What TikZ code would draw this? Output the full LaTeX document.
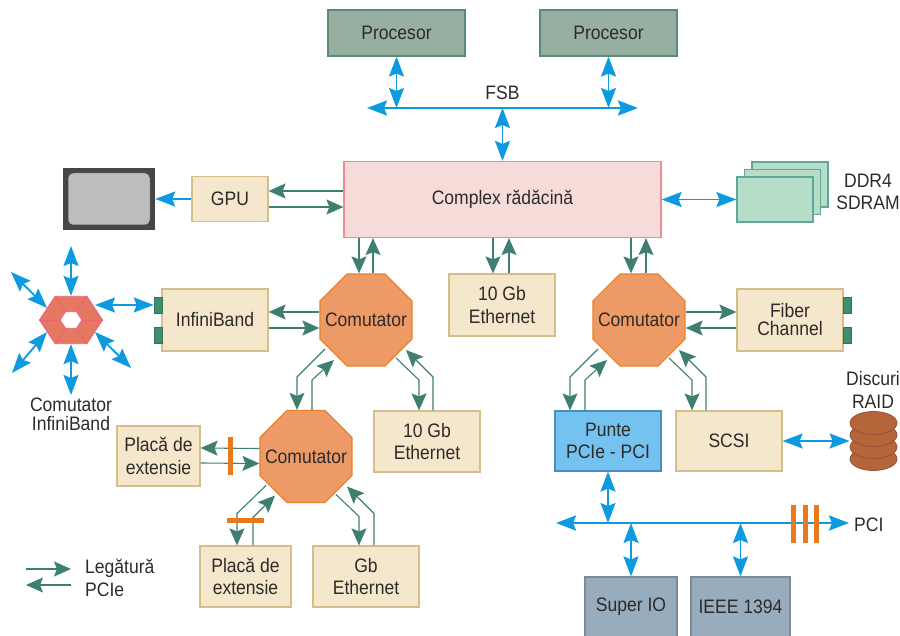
\documentclass[tikz,border=0pt]{standalone}
\usepackage{fontspec}
\setmainfont[FakeStretch=0.9]{Liberation Sans}
\usetikzlibrary{arrows.meta,shapes.geometric}
\definecolor{linkgreen}{HTML}{3F7F72}
\definecolor{busblue}{HTML}{0E9AE0}
\definecolor{barorange}{HTML}{E8791E}
\definecolor{inktext}{HTML}{2E2A2A}
\definecolor{tanfill}{HTML}{F5E7CC}
\definecolor{tanline}{HTML}{D6BE8C}
\definecolor{cpufill}{HTML}{97AFA0}
\definecolor{cpuline}{HTML}{5A8A7A}
\definecolor{iofill}{HTML}{97ADBD}
\definecolor{ioline}{HTML}{7D8B98}
\definecolor{ddrfill}{HTML}{B5DDC8}
\definecolor{ddrline}{HTML}{5FA898}
\definecolor{comfill}{HTML}{EE9A66}
\definecolor{comline}{HTML}{E8842C}
\definecolor{tabfill}{HTML}{3F8F6C}
\definecolor{discfill}{HTML}{B5653A}
\definecolor{discline}{HTML}{96503A}
\definecolor{hexfill}{HTML}{E57860}
\definecolor{hexline}{HTML}{F0607A}
\definecolor{rootfill}{HTML}{F5DCD8}
\definecolor{rootline}{HTML}{EC8E90}
\definecolor{monframe}{HTML}{4A4545}
\definecolor{monscreen}{HTML}{BDBDBD}
\definecolor{puntefill}{HTML}{74C2F0}
\definecolor{punteline}{HTML}{4A8CC4}
\tikzset{
    lbl/.style={inner sep=0pt,align=center,text=inktext,font=\fontsize{19.5}{22.5}\selectfont},
    box/.style={lbl,rectangle,draw,line width=1.2pt,minimum width=#1},
    tanbox/.style={box=#1,fill=tanfill,draw=tanline},
    cpubox/.style={box=137pt,minimum height=46pt,fill=cpufill,draw=cpuline},
    iobox/.style={box=#1,minimum height=60pt,fill=iofill,draw=ioline},
    ddrbox/.style={box=76pt,minimum height=45pt,fill=ddrfill,draw=ddrline},
    comut/.style={regular polygon,regular polygon sides=8,inner sep=0pt,minimum size=99.6pt,fill=comfill,draw=comline,line width=1.2pt},
    tabbox/.style={rectangle,inner sep=0pt,minimum width=8pt,minimum height=16pt,fill=tabfill,draw=tabfill!80!black,line width=.5pt},
    disc/.style={ellipse,inner sep=0pt,minimum width=47pt,minimum height=23pt,fill=discfill,draw=discline,line width=.8pt},
    hexa/.style={regular polygon,regular polygon sides=6,inner sep=0pt,yscale=.87,transform shape,draw=hexline,line width=.9pt},
    barv/.style={rectangle,inner sep=0pt,minimum width=5pt,minimum height=38pt,fill=barorange},
    barh/.style={rectangle,inner sep=0pt,minimum width=37pt,minimum height=5pt,fill=barorange},
    pcie/.style={draw=linkgreen,line width=1.1pt,-{Stealth[length=17pt,width=15pt,inset=3pt]}},
    buslink/.style={draw=busblue,line width=1.8pt,{Stealth[length=20pt,width=15pt,inset=3pt]}-{Stealth[length=20pt,width=15pt,inset=3pt]}},
    busline/.style={buslink,line width=2.8pt},
    busone/.style={draw=busblue,line width=1.8pt,-{Stealth[length=20pt,width=15pt,inset=3pt]}}
}
\begin{document}
\begin{tikzpicture}[x=1pt,y=-1pt]
    \useasboundingbox (0,0) rectangle (900,636);
    \node [cpubox] (proc1) at (396.5,33) {Procesor};
    \node [cpubox] (proc2) at (608.5,33) {Procesor};
    \coordinate (fsbl) at (367,108);
    \coordinate (fsbr) at (638,108);
    \node [lbl] (fsb) at (502.5,93) {FSB};
    \node [box=317pt,minimum height=76pt,fill=rootfill,draw=rootline] (root) at (502.5,199.5) {Complex rădăcină};
    \node [tanbox=76pt,minimum height=45pt] (gpu) at (230,199) {GPU};
    \node [rectangle,inner sep=0pt,minimum width=92pt,minimum height=62pt,fill=monframe] (monitor) at (109,199) {};
    \node [rectangle,rounded corners=5pt,inner sep=0pt,minimum width=82pt,minimum height=52pt,fill=monscreen,draw=black!70,line width=.5pt] (screen) at (109,199) {};
    \node [ddrbox] (ddr3) at (790,184.5) {};
    \node [ddrbox] (ddr2) at (782.5,192) {};
    \node [ddrbox] (ddr1) at (775,199.5) {};
    \node [lbl] (ddrtext) at (868,192) {DDR4\\SDRAM};

    \node [tanbox=106pt,minimum height=62pt] (infini) at (215,320) {InfiniBand};
    \node [tabbox] (tabi1) at (158,305) {};
    \node [tabbox] (tabi2) at (158,335) {};
    \node [hexa,minimum size=63pt,fill=hexfill] (hub) at (71,320) {};
    \node [hexa,minimum size=22pt,fill=white] (hubin) at (71,320) {};
    \foreach \i in {1,...,6}
        \draw [hexline,line width=.9pt] (hub.corner \i) -- (hubin.corner \i);
    \node [lbl,font=\fontsize{19.5}{19}\selectfont] (hubtext) at (71,414) {Comutator\\InfiniBand};
    \coordinate (hubn) at (71,246);
    \coordinate (hubs) at (71,395);
    \coordinate (hubnw) at (11,272);
    \coordinate (hubsw) at (12,373);
    \coordinate (hubse) at (131,368);

    \node [comut,label={[lbl]center:Comutator}] (com1) at (366,320) {};
    \node [comut,label={[lbl]center:Comutator}] (com2) at (639,320) {};
    \node [comut,label={[lbl]center:Comutator}] (com3) at (306,456.5) {};
    \node [tanbox=106pt,minimum height=62pt] (eth1) at (502,305) {10 Gb\\Ethernet};
    \node [tanbox=106pt,minimum height=61pt] (eth2) at (427,441.5) {10 Gb\\Ethernet};
    \node [tanbox=106pt,minimum height=62pt,font=\fontsize{19.5}{18}\selectfont] (fiber) at (790,320) {Fiber\\Channel};
    \node [tabbox] (tabf1) at (847,305) {};
    \node [tabbox] (tabf2) at (847,335) {};
    \node [box=106pt,minimum height=60pt,fill=puntefill,draw=punteline] (punte) at (608,441) {Punte\\PCIe - PCI};
    \node [tanbox=106pt,minimum height=60pt] (scsi) at (729,441) {SCSI};
    \node [tanbox=83pt,minimum height=60pt] (placa1) at (158.5,456) {Placă de\\extensie};
    \node [tanbox=91pt,minimum height=61pt] (placa2) at (245.5,576.5) {Placă de\\extensie};
    \node [tanbox=106pt,minimum height=61pt] (gbe) at (366,576.5) {Gb\\Ethernet};
    \node [disc] (raid4) at (873.5,459) {};
    \node [disc] (raid3) at (873.5,447) {};
    \node [disc] (raid2) at (873.5,435) {};
    \node [disc] (raid1) at (873.5,423) {};
    \node [lbl] (raidtext) at (873,390) {Discuri\\RAID};

    \coordinate (pcil) at (556,523);
    \coordinate (pcir) at (849,523);
    \node [lbl,anchor=west] (pcitext) at (854,525) {PCI};
    \node [iobox=92pt] (superio) at (631,607) {Super IO};
    \node [iobox=99pt] (ieee) at (740.5,607) {IEEE 1394};

    \coordinate (lega1) at (26,569);
    \coordinate (lega2) at (71,569);
    \coordinate (legb1) at (71,585);
    \coordinate (legb2) at (26,585);
    \node [lbl,align=left,anchor=west] (legtext) at (85,578) {Legătură\\PCIe};

    \draw [busline] (fsbl) -- (fsbr);
    \draw [buslink] (proc1.south) -- (proc1.south |- fsbl);
    \draw [buslink] (proc2.south) -- (proc2.south |- fsbl);
    \draw [buslink] (root.north) -- (root.north |- fsbl);
    \draw [busone] (gpu.west) -- (monitor.east);
    \draw [buslink] (root.east |- ddr1.west) -- (ddr1.west);
    \draw [buslink] (hub.side 6 |- tabi1.west) -- (tabi1.west);
    \draw [buslink] (hub.side 1) -- (hubn);
    \draw [buslink] (hub.side 4) -- (hubs);
    \draw [buslink] (hub.side 2) -- (hubnw);
    \draw [buslink] (hub.side 3) -- (hubsw);
    \draw [buslink] (hub.side 5) -- (hubse);
    \draw [buslink] (scsi.east) -- (scsi.east -| raid2.west);
    \draw [busline] (pcil) -- (pcir);
    \draw [buslink] (punte.south) -- (punte.south |- pcil);
    \draw [buslink] (superio.north) -- (superio.north |- pcil);
    \draw [buslink] (ieee.north) -- (ieee.north |- pcil);

    \draw [pcie] ([yshift=8]gpu.east -| root.west) -- ([yshift=8]gpu.east);
    \draw [pcie] ([yshift=-8]gpu.east) -- ([yshift=-8]gpu.east -| root.west);
    \draw [pcie] ([xshift=-7]com1.north |- root.south) -- ([xshift=-7]com1.north);
    \draw [pcie] ([xshift=7]com1.north) -- ([xshift=7]com1.north |- root.south);
    \draw [pcie] ([xshift=-9]eth1.north |- root.south) -- ([xshift=-9]eth1.north);
    \draw [pcie] ([xshift=7]eth1.north) -- ([xshift=7]eth1.north |- root.south);
    \draw [pcie] ([xshift=-8]com2.north |- root.south) -- ([xshift=-8]com2.north);
    \draw [pcie] ([xshift=7]com2.north) -- ([xshift=7]com2.north |- root.south);
    \draw [pcie] ([yshift=8]com1.west) -- ([yshift=8]infini.east);
    \draw [pcie] ([yshift=-8]infini.east) -- ([yshift=-8]com1.west);
    \draw [pcie] ([yshift=8]com2.east) -- ([yshift=8]fiber.west);
    \draw [pcie] ([yshift=-8]fiber.west) -- ([yshift=-8]com2.east);
    \draw [pcie] ([yshift=8]com3.west) -- ([yshift=8]placa1.east);
    \draw [pcie] ([yshift=-7]placa1.east) -- ([yshift=-7]com3.west);

    \draw [pcie] ([shift={(-41,29)}]com1.center) -- ([shift={(-69,57)}]com1.center) -- ([xshift=-9]com3.north);
    \draw [pcie] ([xshift=6]com3.north) -- ([shift={(-54,60)}]com1.center) -- ([shift={(-32,40)}]com1.center);
    \draw [pcie] ([shift={(30,38)}]com1.center) -- ([shift={(53,60)}]com1.center) -- ([xshift=-8]eth2.north);
    \draw [pcie] ([xshift=6]eth2.north) -- ([shift={(67,57)}]com1.center) -- ([shift={(40,30)}]com1.center);
    \draw [pcie] ([shift={(-41,29)}]com2.center) -- ([shift={(-69,57)}]com2.center) -- ([xshift=-38]punte.north);
    \draw [pcie] ([xshift=-23]punte.north) -- ([shift={(-54,60)}]com2.center) -- ([shift={(-32,40)}]com2.center);
    \draw [pcie] ([shift={(30,38)}]com2.center) -- ([shift={(53,60)}]com2.center) -- ([xshift=-37]scsi.north);
    \draw [pcie] ([xshift=-23]scsi.north) -- ([shift={(67,57)}]com2.center) -- ([shift={(40,30)}]com2.center);
    \draw [pcie] ([shift={(-40,29)}]com3.center) -- ([shift={(-69,57)}]com3.center) -- ([xshift=-8.5]placa2.north);
    \draw [pcie] ([xshift=7.5]placa2.north) -- ([shift={(-53,61)}]com3.center) -- ([shift={(-31,39)}]com3.center);
    \draw [pcie] ([shift={(30,38)}]com3.center) -- ([shift={(53,60)}]com3.center) -- ([xshift=-7]gbe.north);
    \draw [pcie] ([xshift=8]gbe.north) -- ([shift={(68,57)}]com3.center) -- ([shift={(41,30)}]com3.center);
    \draw [pcie] (lega1) -- (lega2);
    \draw [pcie] (legb1) -- (legb2);

    \node [barv] (barp1) at (230.5,456) {};
    \node [barh] (barp2) at (245.5,520) {};
    \foreach \x/\n in {793/1,805/2,816/3}
        \node [barv] (barpci\n) at (\x,524) {};
\end{tikzpicture}
\end{document}
